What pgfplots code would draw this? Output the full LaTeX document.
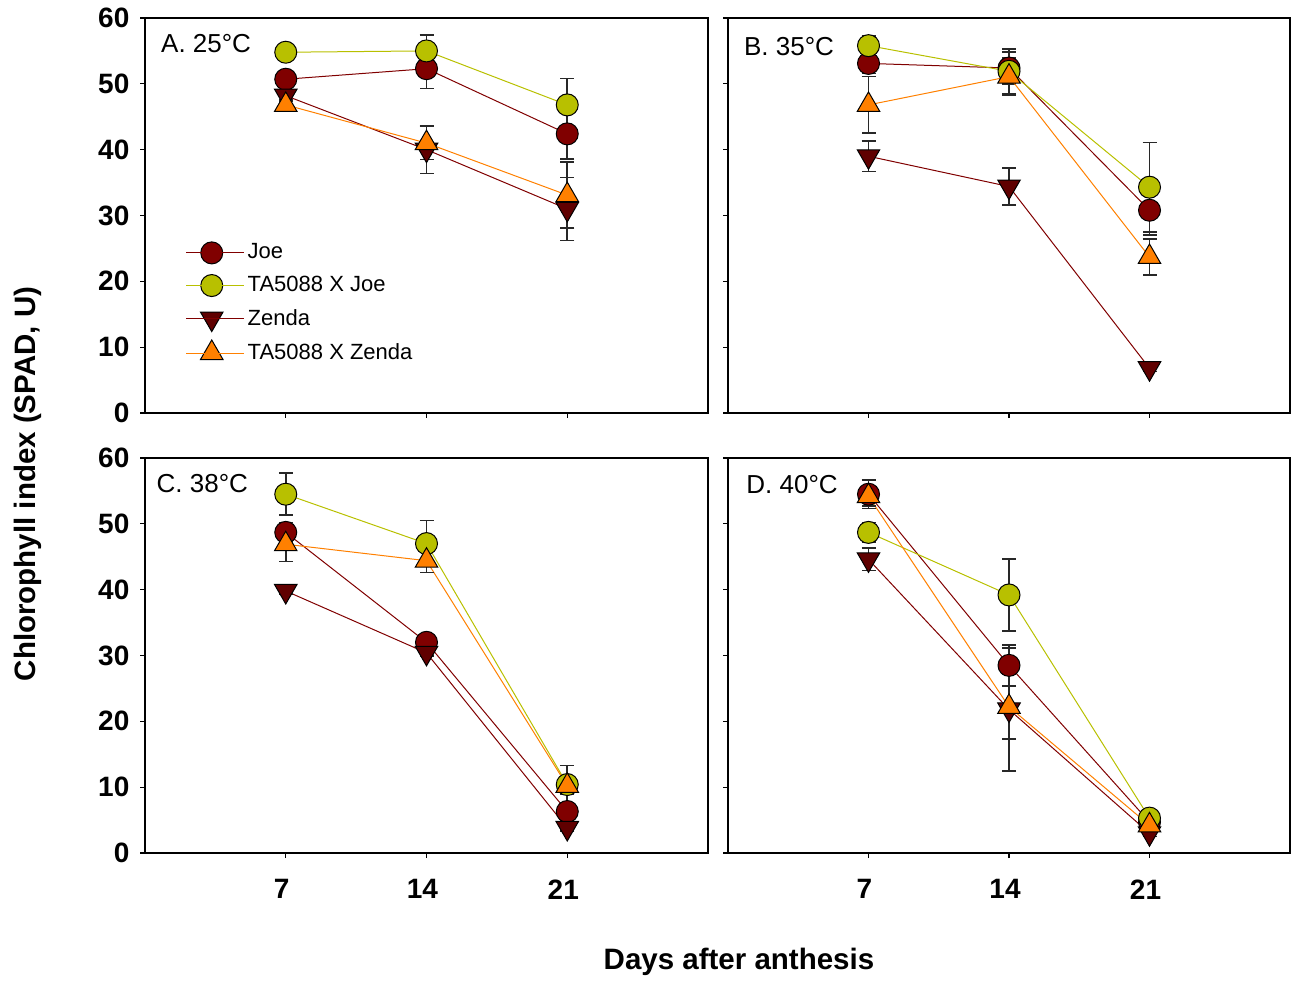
\documentclass[border=0pt]{standalone}
\usepackage{fontspec}
\setmainfont{Liberation Sans}
\usepackage{pgfplots}
\pgfplotsset{compat=1.18}
\usepackage{pgfplotstable}
\definecolor{joe}{RGB}{128,0,0}
\definecolor{tajoe}{RGB}{184,192,0}
\definecolor{zenda}{RGB}{96,0,0}
\definecolor{tazenda}{RGB}{255,128,0}
\definecolor{ebar}{RGB}{40,40,40}

\pgfplotstableread{
x joe joeE tj tjE z zE tz tzE
7 50.7 0.8 54.8 0.5 48.2 0.8 46.8 0.8
14 52.3 3.0 55.0 2.4 40.0 3.6 41.0 2.5
21 42.4 3.8 46.8 4.0 31.0 4.8 33.1 5.0
}\panelA
\pgfplotstableread{
x joe joeE tj tjE z zE tz tzE
7 53.1 1.5 55.8 1.5 39.0 2.3 46.8 4.3
14 52.4 2.4 51.9 3.4 34.4 2.8 51.1 2.8
21 30.8 3.8 34.3 6.8 6.8 0.5 23.7 2.7
}\panelB
\pgfplotstableread{
x joe joeE tj tjE z zE tz tzE
7 48.7 1.5 54.5 3.2 39.8 0.5 46.9 2.6
14 32.0 0.8 47.0 3.5 30.4 0.5 44.4 1.8
21 6.3 1.4 10.4 2.9 3.8 0.5 10.2 1.2
}\panelC
\pgfplotstableread{
x joe joeE tj tjE z zE tz tzE
7 54.5 2.2 48.7 1.5 44.6 1.7 54.2 1.5
14 28.5 3.1 39.2 5.5 21.8 9.3 22.2 4.9
21 4.7 0.8 5.3 0.8 3.0 0.5 4.2 0.8
}\panelD

\pgfplotsset{
  panel/.style={
    scale only axis, height=197.5pt,
    xmin=0, xmax=28, ymin=0, ymax=60,
    xtick={7,14,21}, ytick={0,10,...,60},
    tick align=outside, tick pos=left,
    major tick length=2.5pt,
    axis line style={line width=0.6pt},
    every tick/.style={line width=0.6pt, black},
    /pgf/number format/assume math mode=true,
    ticklabel style={font=\fontsize{14}{16}\selectfont\bfseries},
    xticklabel style={yshift=-7.3pt, xshift=-2pt},
    yticklabel style={xshift=-1.8pt},
    clip=false,
    legend image code/.code={
      \draw[mark repeat=2,mark phase=2,#1] plot coordinates {(0pt,0pt) (12.75pt,0pt) (25.5pt,0pt)};
      \path (0pt,0pt) -- (29pt,0pt);
    },
  },
  eb/.style={error bars/.cd, y dir=both, y explicit,
    error bar style={line width=0.8pt, ebar},
    error mark options={rotate=90, mark size=3.5pt, line width=0.8pt, ebar}},
  sJoe/.style={color=joe, line width=0.5pt, mark=*, mark size=5.5pt,
    mark options={fill=joe, draw=black, line width=0.5pt}, eb},
  sTaJoe/.style={color=tajoe, line width=0.5pt, mark=*, mark size=5.5pt,
    mark options={fill=tajoe, draw=black, line width=0.5pt}, eb},
  sZenda/.style={color=joe, line width=0.5pt, mark=triangle*, mark size=6.5pt,
    mark options={fill=zenda, draw=black, line width=0.5pt, rotate=180}, eb},
  sTaZenda/.style={color=tazenda, line width=0.5pt, mark=triangle*, mark size=6.5pt,
    mark options={fill=tazenda, draw=black, line width=0.5pt}, eb},
}

\newcommand{\panelplots}[1]{%
  \addplot[sJoe] table[x=x,y=joe,y error=joeE] {#1};
  \addplot[sTaJoe] table[x=x,y=tj,y error=tjE] {#1};
  \addplot[sZenda] table[x=x,y=z,y error=zE] {#1};
  \addplot[sTaZenda] table[x=x,y=tz,y error=tzE] {#1};
}

\begin{document}
\begin{tikzpicture}
\path[use as bounding box] (0pt,0pt) rectangle (645.5pt,-492pt);

% Panel A
\begin{axis}[panel, width=281.5pt, at={(72.5pt,-206.5pt)}, anchor=south west,
  xticklabels={},
  legend style={at={(rel axis cs:0.061,0.447)}, anchor=north west, draw=none, fill=none,
    font=\fontsize{11}{12.5}\selectfont, row sep=4.2pt,
    nodes={inner sep=1.5pt}},
  legend cell align=left]
\panelplots{\panelA}
\legend{Joe, TA5088 X Joe, Zenda, TA5088 X Zenda}
\node[anchor=base west, inner sep=0pt, font=\fontsize{13}{15}\selectfont] at (rel axis cs:0.028,0.912) {A. 25°C};
\end{axis}

% Panel B
\begin{axis}[panel, width=281pt, at={(364pt,-206.5pt)}, anchor=south west,
  xticklabels={}, yticklabels={}]
\panelplots{\panelB}
\node[anchor=base west, inner sep=0pt, font=\fontsize{13}{15}\selectfont] at (rel axis cs:0.028,0.906) {B. 35°C};
\end{axis}

% Panel C
\begin{axis}[panel, width=281.5pt, at={(72.5pt,-426.5pt)}, anchor=south west]
\panelplots{\panelC}
\node[anchor=base west, inner sep=0pt, font=\fontsize{13}{15}\selectfont] at (rel axis cs:0.02,0.912) {C. 38°C};
\end{axis}

% Panel D
\begin{axis}[panel, width=281pt, at={(364pt,-426.5pt)}, anchor=south west,
  yticklabels={}]
\panelplots{\panelD}
\node[anchor=base west, inner sep=0pt, font=\fontsize{13}{15}\selectfont] at (rel axis cs:0.032,0.909) {D. 40°C};
\end{axis}

\node[font=\fontsize{14.75}{17}\selectfont\bfseries] at (369.5pt,-481pt) {Days after anthesis};
\node[font=\fontsize{14.75}{17}\selectfont\bfseries, rotate=90] at (14pt,-242pt) {Chlorophyll index (SPAD, U)};
\end{tikzpicture}
\end{document}
